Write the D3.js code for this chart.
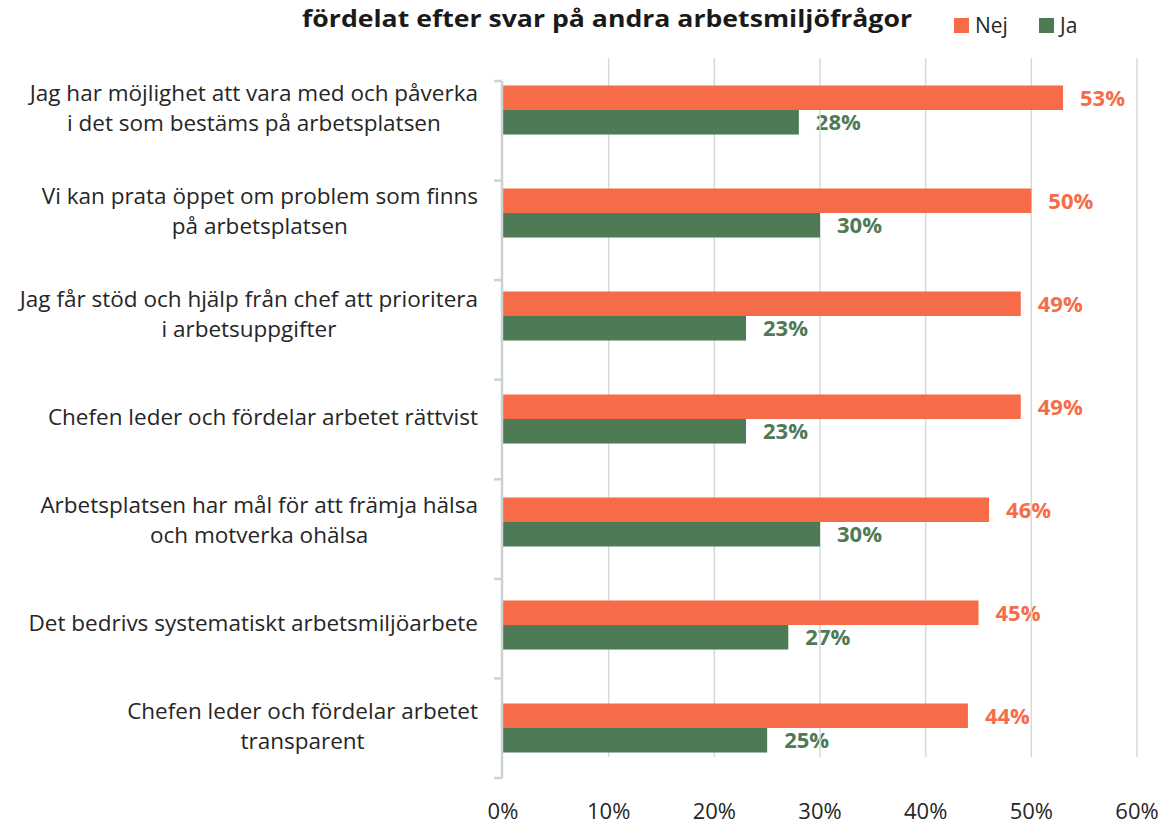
<!DOCTYPE html>
<html>
<head>
<meta charset="utf-8">
<script src="https://cdn.jsdelivr.net/npm/d3@7"></script>
<style>
  body { margin: 0; background: #fff; }
  svg { display: block; font-family: "Open Sans", "Noto Sans", sans-serif; }
</style>
</head>
<body>
<div id="chart"></div>
<script>
// chart data
var titleText = "fördelat efter svar på andra arbetsmiljöfrågor";
var categories = [
	["Jag har möjlighet att vara med och påverka", "i det som bestäms på arbetsplatsen"],
	["Vi kan prata öppet om problem som finns", "på arbetsplatsen"],
	["Jag får stöd och hjälp från chef att prioritera", "i arbetsuppgifter"],
	["Chefen leder och fördelar arbetet rättvist"],
	["Arbetsplatsen har mål för att främja hälsa", "och motverka ohälsa"],
	["Det bedrivs systematiskt arbetsmiljöarbete"],
	["Chefen leder och fördelar arbetet", "transparent"]
];
var seriesNames = ["Nej", "Ja"];
var nejValues = [0.53, 0.50, 0.49, 0.49, 0.46, 0.45, 0.44];
var jaValues = [0.28, 0.30, 0.23, 0.23, 0.30, 0.27, 0.25];
var xTicks = [0, 0.1, 0.2, 0.3, 0.4, 0.5, 0.6];

var colors = { "Nej": "#f76c48", "Ja": "#4e7a55" };

var W = 1172, H = 825;
var svg = d3.select("#chart").append("svg")
	.attr("width", W)
	.attr("height", H);

var keys = categories.map(function(c, i){ return "c" + i; });

var x = d3.scaleLinear().domain([0, 0.6]).range([503, 1137]);
var y = d3.scaleBand().domain(keys).range([58.5, 779.5])
	.paddingInner(0.524).paddingOuter(0.262);
var ySub = d3.scaleBand().domain(seriesNames).range([0, y.bandwidth()]);
// category boundaries on the value axis line
var yTick = d3.scaleLinear().domain([0, categories.length]).range([81, 778]);

var rows = categories.map(function(c, i){
	return { key: keys[i], lines: c, Nej: nejValues[i], Ja: jaValues[i] };
});

// title
svg.append("text")
	.attr("x", 607)
	.attr("y", 27)
	.attr("text-anchor", "middle")
	.attr("textLength", 610)
	.attr("lengthAdjust", "spacingAndGlyphs")
	.style("font-size", "24px")
	.style("font-weight", "bold")
	.style("fill", "#1a1a1a")
	.text(titleText);

// legend
var legend = svg.append("g").attr("class", "legend");
var legendX = { "Nej": 954, "Ja": 1039 };
seriesNames.forEach(function(s){
	legend.append("rect")
		.attr("x", legendX[s]).attr("y", 18)
		.attr("width", 15).attr("height", 15)
		.style("fill", colors[s]);
	legend.append("text")
		.attr("x", legendX[s] + 21).attr("y", 33)
		.style("font-size", "21px")
		.style("fill", "#262626")
		.text(s);
});

// value labels (drawn under the gridlines, as in the source)
var labelG = svg.append("g");
rows.forEach(function(r){
	seriesNames.forEach(function(s){
		labelG.append("text")
			.attr("x", x(r[s]) + 17)
			.attr("y", y(r.key) + ySub(s) + ySub.bandwidth() / 2)
			.attr("dy", "0.36em")
			.style("font-size", "22px")
			.style("font-weight", "bold")
			.style("fill", colors[s])
			.text(d3.format(".0%")(r[s]));
	});
});

// gridlines
svg.append("g").selectAll("line")
	.data(xTicks.slice(1))
	.enter().append("line")
	.attr("x1", function(d){ return x(d); })
	.attr("x2", function(d){ return x(d); })
	.attr("y1", 58).attr("y2", 757)
	.style("stroke", "#d3dada")
	.style("stroke-width", "1.5px");

// bars
var groups = svg.append("g").selectAll("g")
	.data(rows)
	.enter().append("g")
	.attr("transform", function(d){ return "translate(0," + y(d.key) + ")"; });

groups.selectAll("rect")
	.data(function(d){ return seriesNames.map(function(s){ return { s: s, v: d[s] }; }); })
	.enter().append("rect")
	.attr("x", x(0))
	.attr("y", function(d){ return ySub(d.s); })
	.attr("width", function(d){ return x(d.v) - x(0); })
	.attr("height", ySub.bandwidth())
	.style("fill", function(d){ return colors[d.s]; });

// category axis line with tick marks
var axisG = svg.append("g");
axisG.append("line")
	.attr("x1", x(0) - 1).attr("x2", x(0) - 1)
	.attr("y1", yTick(0)).attr("y2", yTick(categories.length))
	.style("stroke", "#c9d3d3")
	.style("stroke-width", "2.5px");
axisG.selectAll("line.tick")
	.data(d3.range(categories.length + 1))
	.enter().append("line")
	.attr("class", "tick")
	.attr("x1", x(0) - 9).attr("x2", x(0) - 1)
	.attr("y1", function(d){ return yTick(d); })
	.attr("y2", function(d){ return yTick(d); })
	.style("stroke", "#c9d3d3")
	.style("stroke-width", "2.5px");

// category labels: lines centred in a box that is right aligned to the axis
var catG = svg.append("g");
var lineH = 30;
rows.forEach(function(r){
	var cy = y(r.key) + y.bandwidth() / 2 - 2;
	var t = catG.append("text")
		.style("font-size", "22.5px")
		.style("fill", "#262626")
		.attr("text-anchor", "middle");
	var spans = r.lines.map(function(l, j){
		return t.append("tspan")
			.attr("y", cy + (j - (r.lines.length - 1) / 2) * lineH)
			.attr("dy", "0.36em")
			.text(l);
	});
	var maxW = d3.max(spans, function(sp){ return sp.node().getComputedTextLength(); });
	spans.forEach(function(sp){ sp.attr("x", 478 - maxW / 2); });
});

// value axis tick labels
svg.append("g").selectAll("text")
	.data(xTicks)
	.enter().append("text")
	.attr("x", function(d){ return x(d); })
	.attr("y", 819)
	.attr("text-anchor", "middle")
	.style("font-size", "22px")
	.style("fill", "#262626")
	.text(function(d){ return d3.format(".0%")(d); });
</script>
</body>
</html>
